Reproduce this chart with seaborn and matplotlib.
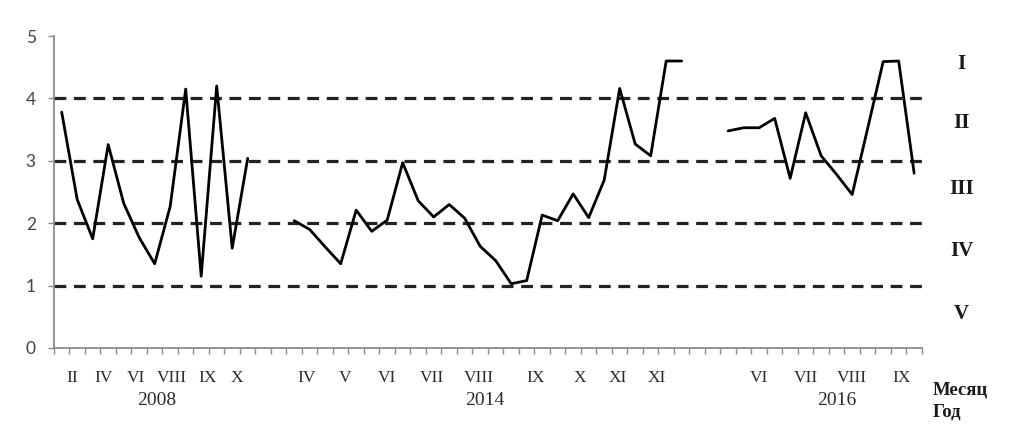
import numpy as np
import pandas as pd
import seaborn as sns
import matplotlib.pyplot as plt
import matplotlib.transforms as mtransforms

# ==========================================
# data
# ==========================================
years = ["2008", "2014", "2016"]
start_idx = [0, 15, 43]          # first category slot of every year block
n_slots = 56

vals_2008 = [3.78, 2.38, 1.75, 3.26, 2.32, 1.77, 1.35, 2.27, 4.15, 1.15, 4.20, 1.60, 3.04]
vals_2014 = [2.04, 1.90, 1.62, 1.35, 2.21, 1.87, 2.05, 2.97, 2.36, 2.10, 2.30, 2.08, 1.63,
             1.40, 1.03, 1.08, 2.13, 2.04, 2.47, 2.09, 2.69, 4.16, 3.27, 3.08, 4.60, 4.60]
vals_2016 = [3.48, 3.53, 3.53, 3.68, 2.72, 3.77, 3.08, 2.78, 2.46, 3.52, 4.59, 4.60, 2.80]

month_labels = ["II", "IV", "VI", "VIII", "IX", "X",
                "IV", "V", "VI", "VII", "VIII", "IX", "X", "XI", "XI",
                "VI", "VII", "VIII", "IX"]
month_pos = [0.7, 2.7, 4.8, 7.1, 9.4, 11.3,
             15.8, 18.3, 21.0, 23.9, 26.9, 30.6, 33.4, 35.9, 38.4,
             45.0, 48.0, 51.0, 54.2]
year_pos = [6.1, 27.3, 50.0]

class_levels = [1, 2, 3, 4]
class_names = ["I", "II", "III", "IV", "V"]
class_label_y = [4.55, 3.6, 2.55, 1.55, 0.55]

# ==========================================
# long table for seaborn
# ==========================================
rows = []
for yr, s, vals in zip(years, start_idx, [vals_2008, vals_2014, vals_2016]):
    for k, v in enumerate(vals):
        rows.append({"year": yr, "slot": s + k, "value": v})
df = pd.DataFrame(rows)

sns.set_theme(style="white")
plt.rcParams["font.family"] = ["Liberation Serif", "DejaVu Serif"]
plt.rcParams["lines.scale_dashes"] = False

fig = plt.figure(figsize=(10.16, 4.45), dpi=100)
ax = fig.add_axes([0.0531, 0.218, 0.8543, 0.701])

for lvl in class_levels:
    ax.axhline(lvl, color="#222222", lw=2.3, dashes=(8.5, 5.5), zorder=1)

sns.lineplot(data=df, x="slot", y="value", units="year", estimator=None,
             color="black", lw=2.0, ax=ax, legend=False, zorder=3)

ax.set_xlim(-0.5, n_slots - 0.5)
ax.set_ylim(0, 5)
ax.set_xlabel("")
ax.set_ylabel("")

# axes look
for side in ["top", "right"]:
    ax.spines[side].set_visible(False)
for side in ["left", "bottom"]:
    ax.spines[side].set_color("#8a8a8a")
    ax.spines[side].set_linewidth(1.3)

ax.set_yticks(range(6))
ax.tick_params(axis="y", left=True, length=4, width=1, color="#8a8a8a",
               pad=9, labelsize=12.5, labelcolor="#444444")
for t in ax.get_yticklabels():
    t.set_family(["Lato", "DejaVu Sans"])

ax.set_xticks(np.arange(-0.5, n_slots, 1.0))
ax.set_xticklabels([])
ax.tick_params(axis="x", bottom=True, length=4, width=1, color="#8a8a8a")

# month / year labels under the axis
trans = mtransforms.blended_transform_factory(ax.transData, ax.transAxes)
for lab, p in zip(month_labels, month_pos):
    ax.text(p, -0.097, lab, transform=trans, ha="center", va="center",
            fontsize=12.5, color="#2a2a2a")
for lab, p in zip(years, year_pos):
    ax.text(p, -0.167, lab, transform=trans, ha="center", va="center",
            fontsize=14, color="#2a2a2a")

ax.text(1.0125, -0.135, "Месяц", transform=ax.transAxes, ha="left", va="center",
        fontsize=13.5, fontweight="bold", color="#1a1a1a")
ax.text(1.0125, -0.204, "Год", transform=ax.transAxes, ha="left", va="center",
        fontsize=13.5, fontweight="bold", color="#1a1a1a")

# class labels on the right
trans_r = mtransforms.blended_transform_factory(ax.transAxes, ax.transData)
for lab, yv in zip(class_names, class_label_y):
    ax.text(1.0457, yv, lab, transform=trans_r, ha="center", va="center",
            fontsize=15, fontweight="bold", color="#1a1a1a")

fig.savefig("out.png", dpi=100, facecolor="white")
